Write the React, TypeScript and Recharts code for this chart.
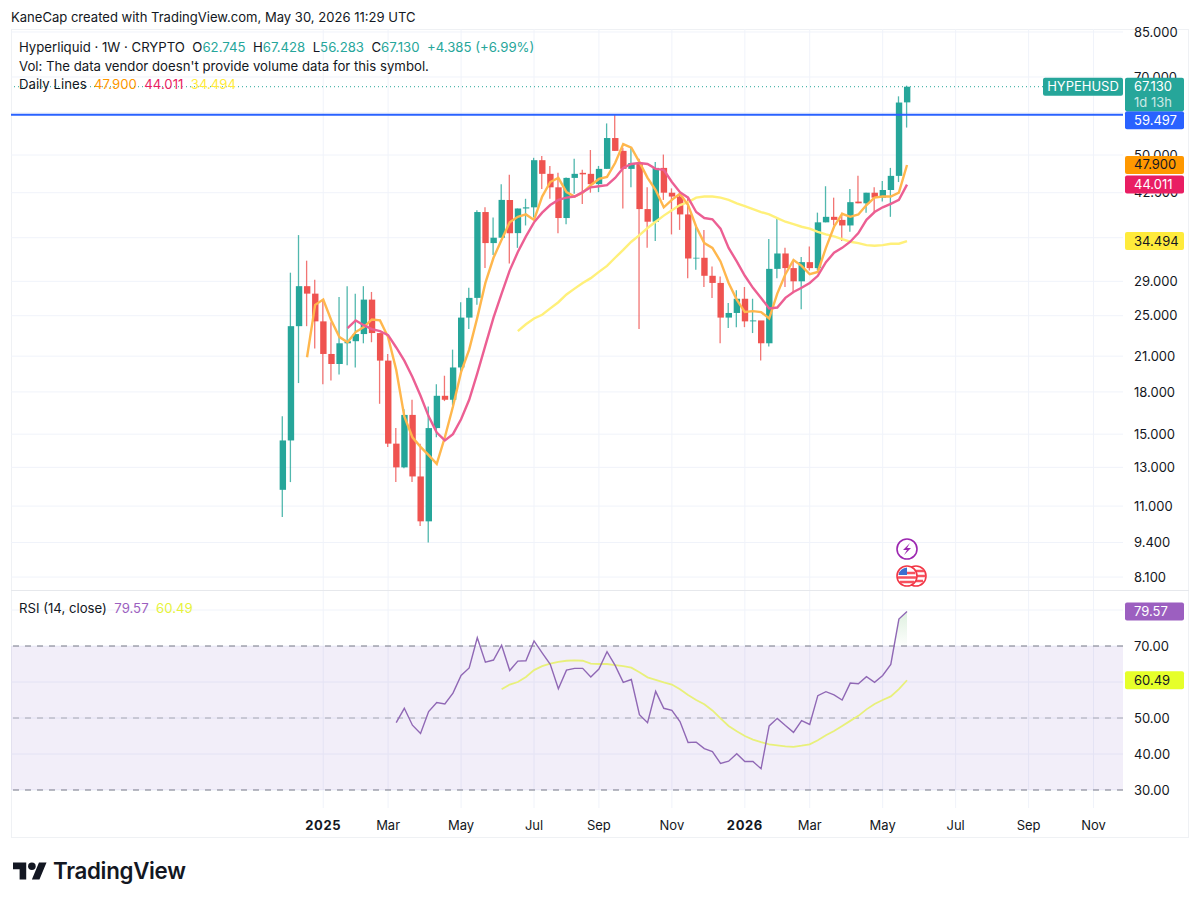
import React from 'react';
import {
  ComposedChart, Bar, Line, Area, Cell, XAxis, YAxis, CartesianGrid,
  ReferenceLine, ReferenceDot, ReferenceArea,
} from 'recharts';

const FONT = 'Inter, "Noto Sans", sans-serif';
const UP = '#26a69a';
const DOWN = '#ef5350';
const GRID = '#f0f3fa';
const TEXT = '#131722';

// weekly candles, index 0 = Dec 2 2024
const opens = [
  11.8, 14.6, 23.9, 28.4, 27.5, 24.4, 21.2, 20.3, 22.2, 22.4, 23.1, 26.8, 23.2, 20.6, 14.4, 13.0, 16.3, 12.5, 10.3, 15.4,
  17.7, 17.4, 20.0, 24.8, 27.0, 39.1, 34.2, 35.0, 41.2, 35.7, 39.7, 39.9, 48.9, 46.1, 43.5, 38.1, 45.3, 46.3, 46.1, 44.1,
  47.1, 53.8, 50.9, 47.1, 48.3, 39.6, 37.5, 47.3, 42.5, 41.8, 38.7, 32.0, 32.1, 29.7, 28.8, 24.8, 25.3, 26.9, 24.4, 24.5,
  22.2, 30.6, 32.7, 30.7, 29.0, 31.5, 30.7, 37.4, 38.3, 37.8, 36.9, 40.9, 40.6, 42.5, 41.6, 43.0, 45.7, 62.745,
];
const closes = [
  14.6, 23.9, 28.4, 27.5, 24.4, 21.2, 20.3, 22.2, 22.4, 23.1, 26.8, 23.2, 20.6, 14.4, 13.0, 16.3, 12.5, 10.3, 15.4, 17.7,
  17.4, 20.0, 24.8, 27.0, 39.1, 34.2, 35.0, 41.2, 35.7, 39.7, 39.9, 48.9, 46.1, 43.5, 38.1, 45.3, 46.1, 46.0, 44.1, 47.1,
  53.8, 50.9, 47.1, 48.3, 39.6, 37.5, 47.3, 42.5, 41.8, 38.7, 32.0, 32.1, 29.7, 28.8, 24.8, 25.3, 26.9, 24.4, 24.5, 22.2,
  30.6, 32.7, 30.7, 29.0, 31.5, 30.7, 37.4, 38.3, 37.8, 36.9, 40.8, 40.6, 42.5, 41.6, 43.0, 45.7, 62.7, 67.13,
];
const highs = [
  16.2, 30.1, 35.4, 31.7, 29.2, 26.8, 24.3, 27.1, 28.4, 27.5, 28.4, 27.7, 23.2, 21.2, 15.4, 16.7, 17.4, 14.4, 16.9, 18.6,
  19.3, 21.6, 26.5, 28.2, 39.4, 39.9, 38.2, 44.1, 45.9, 39.7, 41.4, 49.4, 49.8, 47.7, 46.3, 45.4, 49.2, 46.9, 51.1, 47.7,
  57.3, 59.5, 51.6, 51.6, 49.2, 43.5, 48.5, 50.1, 43.3, 42.5, 41.8, 36.7, 36.2, 30.9, 29.6, 26.4, 27.9, 28.3, 26.9, 24.4,
  34.8, 38.1, 33.5, 31.8, 32.2, 33.7, 39.0, 43.7, 41.6, 39.0, 43.2, 45.7, 42.5, 43.5, 44.7, 47.3, 64.4, 67.428,
];
const lows = [
  10.5, 12.2, 18.7, 23.9, 21.7, 18.6, 18.9, 19.4, 20.2, 20.0, 22.2, 22.3, 17.1, 14.2, 12.2, 12.95, 12.2, 10.1, 9.4, 14.8,
  17.3, 17.0, 19.6, 23.6, 26.2, 30.7, 32.5, 35.0, 31.3, 33.5, 36.9, 38.2, 43.2, 41.4, 35.7, 37.1, 42.3, 40.5, 42.5, 42.6,
  47.1, 50.9, 39.7, 43.5, 23.6, 33.5, 34.5, 41.2, 35.5, 36.2, 29.4, 30.5, 28.3, 27.0, 22.2, 23.7, 23.8, 23.8, 23.2, 20.6,
  21.9, 29.4, 28.3, 27.7, 25.7, 30.4, 30.4, 37.4, 36.9, 34.5, 35.9, 40.6, 39.0, 39.0, 40.9, 38.3, 44.5, 56.283,
];

// daily lines, first value belongs to the week in the *Start const
const orangeStart = 3;
const orangeLine = [
  20.9, 26.2, 26.8, 24.5, 22.8, 22.3, 23.3, 23.8, 24.6, 24.5, 22.8, 19.8, 16.2, 14.8, 14.2, 13.7, 13.2, 14.8, 16.9, 19.6,
  21.6, 24.8, 28.8, 32.1, 34.7, 37.4, 38.3, 38.7, 37.8, 41.8, 44.5, 45.3, 42.6, 41.8, 42.5, 43.9, 45.1, 45.5, 48.3, 52.4,
  51.6, 48.5, 45.3, 43.0, 39.9, 41.2, 42.3, 40.3, 36.7, 34.2, 33.5, 31.6, 28.8, 26.8, 25.4, 25.5, 25.4, 24.7, 27.5, 29.9,
  31.8, 31.0, 29.9, 30.2, 33.5, 36.7, 38.8, 38.3, 38.7, 40.3, 41.6, 41.8, 41.8, 42.5, 47.9,
];
const pinkStart = 8;
const pinkLine = [
  23.7, 24.5, 24.0, 23.6, 23.4, 23.0, 21.8, 20.6, 19.2, 17.7, 16.2, 15.1, 14.6, 15.0, 16.0, 17.4, 19.5, 22.0, 24.8, 27.5,
  30.4, 32.9, 35.2, 37.4, 39.0, 40.3, 41.2, 41.6, 41.8, 42.6, 43.5, 43.7, 43.9, 45.3, 47.3, 48.1, 48.3, 48.1, 47.1, 46.9,
  44.5, 42.6, 41.6, 39.1, 38.1, 37.9, 36.4, 33.5, 31.6, 29.7, 28.2, 27.0, 25.8, 25.9, 27.0, 27.7, 28.2, 28.8, 29.7, 31.5,
  32.8, 33.5, 34.4, 35.7, 37.8, 39.1, 39.9, 40.5, 41.2, 44.011,
];
const yellowStart = 29;
const yellowLine = [
  23.4, 24.1, 24.7, 25.1, 25.8, 26.5, 27.4, 28.1, 28.8, 29.4, 30.2, 31.0, 32.1, 33.2, 34.4, 35.4, 36.5, 37.5, 38.5, 39.4,
  40.3, 40.8, 41.6, 41.8, 41.8, 41.6, 41.2, 40.6, 40.1, 39.6, 39.1, 38.7, 38.1, 37.5, 37.1, 36.7, 36.4, 35.9, 35.5, 35.2,
  34.8, 34.4, 34.2, 33.9, 33.8, 33.9, 34.1, 34.1, 34.494,
];

const rsiStart = 14;
const rsiLine = [
  48.7, 52.7, 48.0, 45.7, 51.8, 54.3, 53.9, 56.9, 61.8, 63.9, 72.3, 65.5, 66.1, 70.2, 63.2, 65.8, 65.9, 71.4, 68.1, 64.9,
  58.1, 63.3, 63.8, 63.8, 61.4, 63.6, 68.4, 64.6, 59.9, 60.7, 50.9, 48.7, 57.4, 52.7, 52.1, 49.0, 43.2, 43.3, 41.5, 40.7,
  37.4, 38.0, 40.1, 37.9, 37.9, 35.9, 47.8, 49.9, 47.9, 46.0, 49.3, 48.2, 56.2, 57.3, 56.4, 55.0, 59.7, 59.5, 61.5, 59.9,
  61.8, 64.9, 77.5, 79.57,
];
const rsiMaStart = 27;
const rsiMaLine = [
  58.0, 59.3, 60.0, 61.4, 63.3, 64.4, 65.1, 65.6, 65.9, 66.0, 65.9, 65.1, 65.0, 65.0, 64.7, 64.4, 64.0, 62.7, 61.3, 60.6,
  59.9, 59.3, 58.0, 56.4, 55.0, 53.8, 52.1, 49.9, 47.8, 46.3, 45.0, 44.0, 43.3, 42.7, 42.4, 42.1, 42.0, 42.3, 42.7, 43.8,
  45.2, 46.4, 47.8, 49.2, 50.6, 52.4, 53.9, 55.0, 56.0, 58.0, 60.49,
];
const overboughtWeeks = [75.45, 76, 77];
const overboughtValues = [70, 77.5, 79.57];

// the badges hide these tick labels in the picture, their grid lines stay
const priceTicks = [85, 70, 60, 50, 42.5, 35, 29, 25, 21, 18, 15, 13, 11, 9.4, 8.1];
const hiddenPriceTicks = [60, 35];
const rsiTicks = [30, 40, 50, 60, 70, 80];
const hiddenRsiTicks = [60, 80];
const timeTicks = [5, 13, 22, 31, 39, 48, 57, 65, 74, 83, 92, 100];
const timeLabels = ['2025', 'Mar', 'May', 'Jul', 'Sep', 'Nov', '2026', 'Mar', 'May', 'Jul', 'Sep', 'Nov'];

const LAST = opens.length - 1;
const weekDomain = [-33.51, 103.64];
const priceDomain = [7.66, 86.1];
const rsiDomain = [25, 85.28];

const rows = opens.map((open, i) => {
  const close = closes[i];
  return {
    week: i,
    up: close >= open,
    wick: [lows[i], highs[i]],
    body: [Math.min(open, close), Math.max(open, close)],
    orange: orangeLine[i - orangeStart] ?? null,
    pink: pinkLine[i - pinkStart] ?? null,
    yellow: yellowLine[i - yellowStart] ?? null,
    rsi: rsiLine[i - rsiStart] ?? null,
    rsiMa: rsiMaLine[i - rsiMaStart] ?? null,
  };
});
const overboughtRows = overboughtWeeks.map((week, i) => ({ week, band: [70, overboughtValues[i]] }));

function Badge({ cy, fill, color, text, sub, tag, shift = 0 }: any) {
  const c = cy + shift;
  const h = sub ? 33.5 : 18;
  return (
    <g fontFamily={FONT} fontSize={13}>
      {tag && (
        <g>
          <rect x={1043} y={c - 9} width={80} height={18} rx={2} fill={fill} />
          <text x={1083} y={c + 4.5} fill="#fff" textAnchor="middle">{tag}</text>
        </g>
      )}
      <rect x={1125} y={c - 9} width={59} height={h} rx={2} fill={fill} />
      <text x={1134} y={c + 4.5} fill={color}>{text}</text>
      {sub && <text x={1134} y={c + 20} fill={color} opacity={0.75}>{sub}</text>}
    </g>
  );
}

function TimeTick({ x, y, payload }: any) {
  const label = timeLabels[timeTicks.indexOf(payload.value)];
  const isYear = label.length === 4;
  return (
    <text
      x={x} y={y + 14} textAnchor="middle" fontFamily={FONT} fontSize={13}
      fontWeight={isYear ? 700 : 400} letterSpacing={isYear ? 0.6 : 0} fill={TEXT}
    >
      {label}
    </text>
  );
}

function Legend() {
  const line = { position: 'absolute', left: 19, whiteSpace: 'pre', fontSize: 13.2, color: TEXT } as const;
  const up = { color: UP };
  return (
    <>
      <div style={{ ...line, left: 11, top: 9, fontSize: 13.05 }}>KaneCap created with TradingView.com, May 30, 2026 11:29 UTC</div>
      <div style={{ ...line, top: 39 }}>
        {'Hyperliquid · 1W · CRYPTO  O'}<span style={up}>62.745</span>{'  H'}<span style={up}>67.428</span>
        {'  L'}<span style={up}>56.283</span>{'  C'}<span style={up}>67.130</span>{'  '}<span style={up}>+4.385 (+6.99%)</span>
      </div>
      <div style={{ ...line, top: 58 }}>Vol: The data vendor doesn't provide volume data for this symbol.</div>
      <div style={{ ...line, top: 76 }}>
        {'Daily Lines  '}<span style={{ color: '#ff9800' }}>47.900</span>{'  '}
        <span style={{ color: '#e91e63' }}>44.011</span>{'  '}<span style={{ color: '#ffeb3b' }}>34.494</span>
      </div>
      <div style={{ ...line, top: 600 }}>
        {'RSI (14, close)  '}<span style={{ color: '#9c5fc0' }}>79.57</span>{'  '}<span style={{ color: '#e6f23c' }}>60.49</span>
      </div>
    </>
  );
}

function EventIcons() {
  return (
    <svg width={60} height={60} style={{ position: 'absolute', left: 885, top: 530 }}>
      <circle cx={22} cy={19} r={10} fill="#fff" stroke="#9c27b0" strokeWidth={1.6} />
      <path d="M25 13 L18 20 L22 20 L19 25 L26 18 L22 18 Z" fill="#9c27b0" />
      <circle cx={31} cy={46} r={10} fill="#fff" stroke="#f23645" strokeWidth={1.6} />
      <path d="M25 41 H39 M23 46 H40 M25 51 H38" stroke="#f7525f" strokeWidth={2.4} />
      <circle cx={22} cy={46} r={10} fill="#fff" stroke="#f23645" strokeWidth={1.6} />
      <path d="M14 43 H30 M13 47.5 H31 M15 52 H29" stroke="#f7525f" strokeWidth={2.4} />
      <path d="M13.5 45 A9 9 0 0 1 22 37.5 V45 Z" fill="#3b6fd1" />
    </svg>
  );
}

function Logo() {
  return (
    <div style={{ position: 'absolute', left: 13, top: 857 }}>
      <svg width={34} height={28} viewBox="0 0 36 28" style={{ position: 'absolute', left: 0, top: 1 }}>
        <path d="M14 22H7V11H0V4h14v18ZM28 22h-8l7.5-18h8L28 22Z" fill="#131722" />
        <circle cx={20} cy={8} r={4} fill="#131722" />
      </svg>
      <div style={{ position: 'absolute', left: 40, top: 0, fontSize: 22.3, fontWeight: 600, color: '#131722', letterSpacing: -0.3 }}>
        TradingView
      </div>
    </div>
  );
}

export default function App() {
  return (
    <div style={{ position: 'absolute', left: 0, top: 0, width: 1200, height: 904, background: '#fff', fontFamily: FONT, overflow: 'hidden' }}>
      <div style={{ position: 'absolute', left: 11, top: 29, width: 1178, height: 809, border: '1px solid #eff1f4', boxSizing: 'border-box' }} />
      <div style={{ position: 'absolute', left: 11, top: 590, width: 1178, height: 1, background: '#e6e8ec' }} />

      <div style={{ position: 'absolute', left: 0, top: 0 }}>
        <ComposedChart width={1200} height={590} data={rows} margin={{ top: 29, right: 0, bottom: 0, left: 11 }}>
          <CartesianGrid stroke={GRID} xAxisId="wick" verticalValues={timeTicks} horizontalValues={priceTicks} />
          <XAxis xAxisId="wick" dataKey="week" type="number" domain={weekDomain} allowDataOverflow ticks={timeTicks} hide />
          <XAxis xAxisId="body" dataKey="week" type="number" domain={weekDomain} allowDataOverflow ticks={timeTicks} hide />
          <YAxis
            orientation="right" width={77} scale="log" type="number" domain={priceDomain} allowDataOverflow
            ticks={priceTicks} interval={0} axisLine={false} tickLine={false} tickSize={0} tickMargin={11}
            tick={{ fontSize: 13, fontFamily: FONT, fill: TEXT }}
            tickFormatter={(v: number) => (hiddenPriceTicks.includes(v) ? '' : v.toFixed(3))}
          />
          <ReferenceLine xAxisId="wick" y={67.13} stroke={UP} strokeDasharray="1 3" />
          <ReferenceLine xAxisId="wick" y={59.497} stroke="#2962ff" strokeWidth={2} />
          <Line xAxisId="wick" dataKey="yellow" stroke="#fff07a" strokeWidth={2.4} dot={false} isAnimationActive={false} />
          <Line xAxisId="wick" dataKey="orange" stroke="#ffb74d" strokeWidth={2.4} dot={false} isAnimationActive={false} />
          <Line xAxisId="wick" dataKey="pink" stroke="#ec5f93" strokeWidth={2.4} dot={false} isAnimationActive={false} />
          <Bar xAxisId="wick" dataKey="wick" barSize={1.3} isAnimationActive={false}>
            {rows.map((r) => <Cell key={r.week} fill={r.up ? UP : DOWN} fillOpacity={0.8} />)}
          </Bar>
          <Bar xAxisId="body" dataKey="body" barSize={6.4} isAnimationActive={false}>
            {rows.map((r) => <Cell key={r.week} fill={r.up ? UP : DOWN} />)}
          </Bar>
        </ComposedChart>
      </div>

      {/* badges sit in their own layer, axis ticks would draw over them otherwise */}
      <div style={{ position: 'absolute', left: 0, top: 0 }}>
        <ComposedChart width={1200} height={590} data={rows} margin={{ top: 29, right: 77, bottom: 0, left: 11 }}>
          <XAxis dataKey="week" type="number" domain={weekDomain} allowDataOverflow hide />
          <YAxis scale="log" type="number" domain={priceDomain} allowDataOverflow hide />
          <ReferenceDot x={LAST} y={34.494} r={0} ifOverflow="visible"
            shape={(p: any) => <Badge cy={p.cy} fill="#ffeb3b" color={TEXT} text="34.494" />} />
          <ReferenceDot x={LAST} y={44.011} r={0} ifOverflow="visible"
            shape={(p: any) => <Badge cy={p.cy} fill="#e91e63" color="#fff" text="44.011" />} />
          <ReferenceDot x={LAST} y={47.9} r={0} ifOverflow="visible"
            shape={(p: any) => <Badge cy={p.cy} fill="#ff9800" color={TEXT} text="47.900" />} />
          <ReferenceDot x={LAST} y={59.497} r={0} ifOverflow="visible"
            shape={(p: any) => <Badge cy={p.cy} fill="#2962ff" color="#fff" text="59.497" shift={5.5} />} />
          <ReferenceDot x={LAST} y={67.13} r={0} ifOverflow="visible"
            shape={(p: any) => <Badge cy={p.cy} fill={UP} color="#fff" text="67.130" sub="1d 13h" tag="HYPEHUSD" />} />
        </ComposedChart>
      </div>

      <div style={{ position: 'absolute', left: 0, top: 590 }}>
        <ComposedChart width={1200} height={248} data={rows} margin={{ top: 1, right: 0, bottom: 0, left: 11 }}>
          <defs>
            <linearGradient id="overbought" x1="0" y1="0" x2="0" y2="1">
              <stop offset="0%" stopColor="#4caf50" stopOpacity={0.3} />
              <stop offset="100%" stopColor="#4caf50" stopOpacity={0.02} />
            </linearGradient>
          </defs>
          <CartesianGrid stroke={GRID} verticalValues={timeTicks} horizontalValues={rsiTicks} />
          <ReferenceArea y1={30} y2={70} fill="#7e57c2" fillOpacity={0.1} stroke="none" />
          <XAxis
            dataKey="week" type="number" domain={weekDomain} allowDataOverflow ticks={timeTicks} interval={0} height={30}
            axisLine={false} tickLine={false} tick={<TimeTick />}
          />
          <YAxis
            orientation="right" width={77} type="number" domain={rsiDomain} allowDataOverflow
            ticks={rsiTicks} interval={0} axisLine={false} tickLine={false} tickSize={0} tickMargin={11}
            tick={{ fontSize: 13, fontFamily: FONT, fill: TEXT }}
            tickFormatter={(v: number) => (hiddenRsiTicks.includes(v) ? '' : v.toFixed(2))}
          />
          <ReferenceLine y={70} stroke="#787b86" strokeDasharray="6 6" />
          <ReferenceLine y={50} stroke="#787b86" strokeOpacity={0.6} strokeDasharray="6 6" />
          <ReferenceLine y={30} stroke="#787b86" strokeDasharray="6 6" />
          <Area data={overboughtRows} dataKey="band" stroke="none" fill="url(#overbought)" dot={false} isAnimationActive={false} />
          <Line dataKey="rsiMa" stroke="#e8f07a" strokeWidth={1.8} dot={false} isAnimationActive={false} />
          <Line dataKey="rsi" stroke="#9068b5" strokeWidth={1.4} dot={false} isAnimationActive={false} />
        </ComposedChart>
      </div>

      <div style={{ position: 'absolute', left: 0, top: 590 }}>
        <ComposedChart width={1200} height={248} data={rows} margin={{ top: 1, right: 77, bottom: 30, left: 11 }}>
          <XAxis dataKey="week" type="number" domain={weekDomain} allowDataOverflow hide />
          <YAxis type="number" domain={rsiDomain} allowDataOverflow hide />
          <ReferenceDot x={LAST} y={60.49} r={0} ifOverflow="visible"
            shape={(p: any) => <Badge cy={p.cy} fill="#e6ff2a" color={TEXT} text="60.49" />} />
          <ReferenceDot x={LAST} y={79.57} r={0} ifOverflow="visible"
            shape={(p: any) => <Badge cy={p.cy} fill="#9c5fc0" color="#fff" text="79.57" />} />
        </ComposedChart>
      </div>

      <Legend />
      <EventIcons />
      <Logo />
    </div>
  );
}
